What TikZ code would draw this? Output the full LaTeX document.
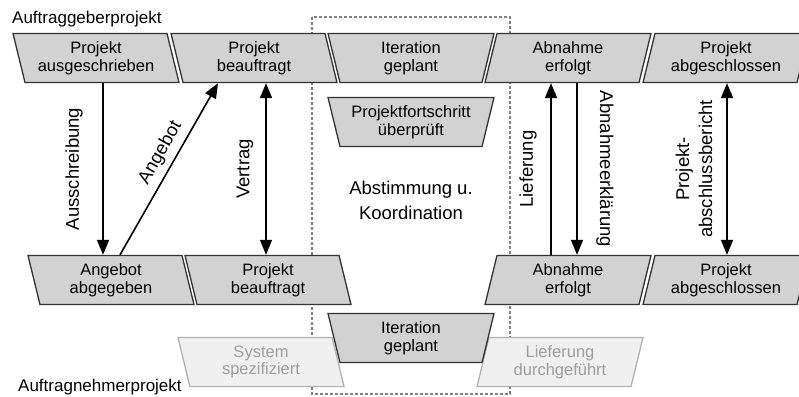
\documentclass[tikz,border=0pt]{standalone}
\usepackage{fontspec}
\setmainfont{Liberation Sans}
\usepackage{tikz}
\usetikzlibrary{arrows.meta,shapes.geometric,calc}
\tikzset{
  ev/.style={shape=trapezium, trapezium stretches body, draw=black!80, line width=1.3pt, fill=gray!35,
    minimum width=166pt, minimum height=49pt, inner sep=2pt, align=center, font=\fontsize{16.5}{17.5}\selectfont},
  evl/.style={ev, trapezium left angle=108, trapezium right angle=72},
  evr/.style={ev, trapezium left angle=72, trapezium right angle=108},
  evt/.style={ev, trapezium left angle=108, trapezium right angle=108},
  faint/.style={draw=black!30, fill=gray!12, text=black!38},
  lbl/.style={font=\fontsize{18.5}{23}\selectfont, align=center, inner sep=0pt},
  title/.style={font=\fontsize{17}{20}\selectfont, inner sep=0pt},
  arrow/.style={-{Triangle[length=15pt,width=12pt]}, line width=1.6pt},
  darrow/.style={arrow, {Triangle[length=15pt,width=12pt]}-{Triangle[length=15pt,width=12pt]}},
  koordbox/.style={draw=black!50, line width=1.1pt, dash pattern=on 3pt off 2pt}
}

\begin{document}
\begin{tikzpicture}[x=1pt, y=-1pt]
  \useasboundingbox (0,0) rectangle (799,396);
  % Abstimmungsbereich
  \draw[koordbox] (312,17) rectangle (510,394);
  \node[lbl, font=\fontsize{18.5}{25}\selectfont] (abst) at (411,200) {Abstimmung u.\\Koordination};
  % Auftraggeberprojekt
  \node[title, anchor=base west] (agp) at (12,24) {Auftraggeberprojekt};
  \node[evl] (ausg) at (96,58) {Projekt\\ausgeschrieben};
  \node[evl] (bea1) at (254,58) {Projekt\\beauftragt};
  \node[evt] (iter1) at (411,58) {Iteration\\geplant};
  \node[evt] (fort) at (411,122) {Projektfortschritt\\überprüft};
  \node[evr] (abn1) at (568,58) {Abnahme\\erfolgt};
  \node[evr] (absc1) at (726,58) {Projekt\\abgeschlossen};
  % Auftragnehmerprojekt
  \node[title, anchor=base west] (anp) at (18,391) {Auftragnehmerprojekt};
  \node[evl, faint] (sysp) at (261,362) {System\\spezifiziert};
  \node[evr, faint] (lief) at (560,362) {Lieferung\\durchgeführt};
  \node[evl] (angb) at (111,280) {Angebot\\abgegeben};
  \node[evl] (bea2) at (268,280) {Projekt\\beauftragt};
  \node[evt] (iter2) at (411,338) {Iteration\\geplant};
  \node[evr] (abn2) at (568,280) {Abnahme\\erfolgt};
  \node[evr] (absc2) at (726,280) {Projekt\\abgeschlossen};
  % Verbindungen
  \draw[arrow] ([xshift=7pt]ausg.south) -- ([xshift=7pt]ausg.south |- angb.north)
    node[lbl, midway, xshift=-29pt, rotate=90] {Ausschreibung};
  \draw[arrow] ([xshift=9pt]angb.north) -- ([xshift=-36pt]bea1.south)
    node[lbl, pos=0.55, sloped, above=6pt] {Angebot};
  \draw[darrow] ([xshift=12pt]bea1.south) -- ([xshift=12pt]bea1.south |- bea2.north)
    node[lbl, midway, xshift=-21pt, rotate=90] {Vertrag};
  \draw[arrow] ([xshift=-17pt]abn2.north) -- ([xshift=-17pt]abn2.north |- abn1.south)
    node[lbl, midway, xshift=-23pt, rotate=90] {Lieferung};
  \draw[arrow] ([xshift=9pt]abn1.south) -- ([xshift=9pt]abn1.south |- abn2.north)
    node[lbl, midway, xshift=28pt, rotate=-90] {Abnahmeerklärung};
  \draw[darrow] ([xshift=1pt]absc1.south) -- ([xshift=1pt]absc1.south |- absc2.north)
    node[lbl, midway, xshift=-33pt, rotate=90] {Projekt-\\abschlussbericht};
\end{tikzpicture}
\end{document}
